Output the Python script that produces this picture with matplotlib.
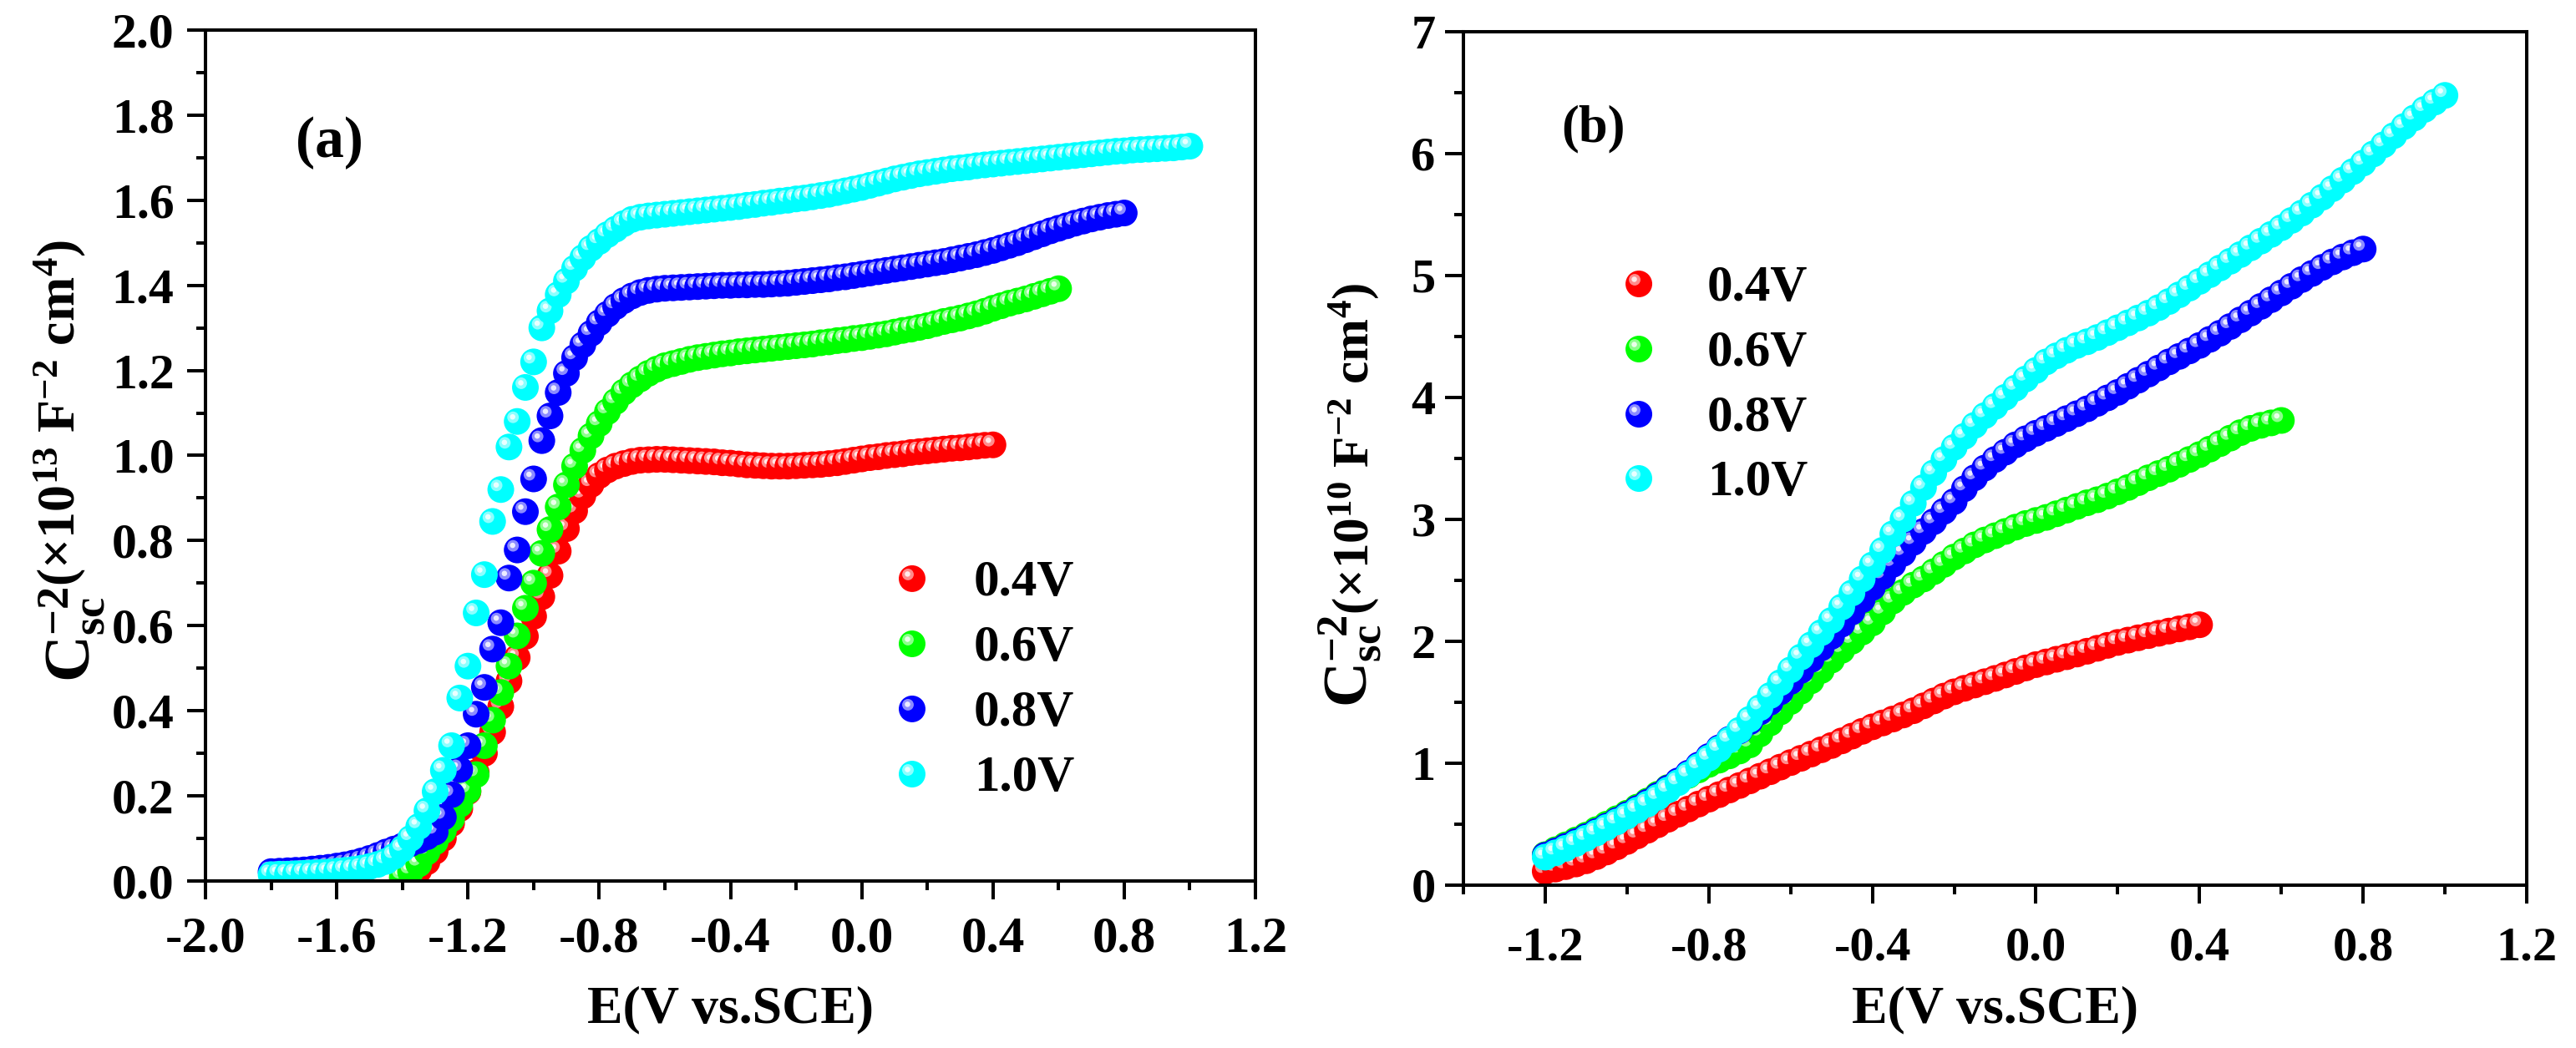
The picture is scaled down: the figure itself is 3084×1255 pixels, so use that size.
import numpy as np
import matplotlib
matplotlib.use('Agg')
import matplotlib.pyplot as plt
import matplotlib.colors as mcolors
from matplotlib.ticker import MultipleLocator, FormatStrFormatter

plt.rcParams['font.family'] = ['Liberation Serif', 'DejaVu Serif']
plt.rcParams['font.weight'] = 'bold'
plt.rcParams['mathtext.fontset'] = 'custom'
plt.rcParams['mathtext.rm'] = 'Liberation Serif:bold'
plt.rcParams['mathtext.it'] = 'Liberation Serif:bold:italic'
plt.rcParams['mathtext.bf'] = 'Liberation Serif:bold'
plt.rcParams['axes.unicode_minus'] = False

# potential sweep: first point of each run, step 0.025 V
step = 0.025
labels = ['0.4V', '0.6V', '0.8V', '1.0V']
colors = ['#FF0000', '#00FF00', '#0000FF', '#00FFFF']

# ---- panel (a), x10^13 F^-2 cm^4 ----
start_a = [-1.4, -1.4, -1.8, -1.8]
red_a = [0.005, 0.012, 0.025, 0.045, 0.070, 0.100, 0.135, 0.170, 0.210, 0.255,
         0.300, 0.350, 0.410, 0.470, 0.525, 0.575, 0.622, 0.668, 0.718, 0.775,
         0.828, 0.870, 0.905, 0.932, 0.953, 0.966, 0.975, 0.981, 0.986, 0.989,
         0.990, 0.991, 0.991, 0.990, 0.989, 0.988, 0.987, 0.986, 0.985, 0.983,
         0.982, 0.980, 0.978, 0.977, 0.976, 0.975, 0.975, 0.975, 0.976, 0.977,
         0.978, 0.979, 0.981, 0.983, 0.986, 0.989, 0.992, 0.995, 0.997, 1.000,
         1.002, 1.004, 1.007, 1.009, 1.011, 1.013, 1.015, 1.017, 1.018, 1.020,
         1.022, 1.024, 1.025]
green_a = [0.010, 0.022, 0.040, 0.068, 0.092, 0.118, 0.146, 0.180, 0.212, 0.250,
           0.318, 0.378, 0.443, 0.505, 0.576, 0.641, 0.700, 0.770, 0.826, 0.879,
           0.931, 0.975, 1.012, 1.046, 1.075, 1.103, 1.127, 1.149, 1.166, 1.180,
           1.193, 1.203, 1.211, 1.216, 1.221, 1.226, 1.230, 1.233, 1.236, 1.239,
           1.241, 1.244, 1.246, 1.248, 1.250, 1.252, 1.254, 1.256, 1.258, 1.260,
           1.262, 1.265, 1.267, 1.270, 1.272, 1.275, 1.277, 1.280, 1.283, 1.286,
           1.290, 1.294, 1.297, 1.301, 1.305, 1.310, 1.315, 1.319, 1.323, 1.328,
           1.333, 1.339, 1.346, 1.352, 1.358, 1.363, 1.368, 1.374, 1.380, 1.386,
           1.392]
blue_a = [0.022, 0.023, 0.024, 0.025, 0.026, 0.028, 0.030, 0.032, 0.035, 0.038,
          0.042, 0.047, 0.053, 0.060, 0.068, 0.075, 0.082, 0.088, 0.095, 0.104,
          0.115, 0.150, 0.203, 0.262, 0.318, 0.392, 0.455, 0.545, 0.607, 0.712,
          0.778, 0.868, 0.945, 1.035, 1.093, 1.148, 1.193, 1.230, 1.260, 1.287,
          1.312, 1.332, 1.350, 1.364, 1.375, 1.383, 1.388, 1.391, 1.393, 1.394,
          1.395, 1.396, 1.397, 1.398, 1.399, 1.400, 1.400, 1.401, 1.401, 1.402,
          1.402, 1.403, 1.404, 1.405, 1.407, 1.409, 1.411, 1.413, 1.415, 1.418,
          1.420, 1.423, 1.426, 1.429, 1.432, 1.435, 1.438, 1.441, 1.444, 1.447,
          1.450, 1.453, 1.456, 1.460, 1.464, 1.468, 1.472, 1.477, 1.482, 1.488,
          1.494, 1.500, 1.507, 1.514, 1.521, 1.528, 1.534, 1.540, 1.546, 1.551,
          1.556, 1.560, 1.564, 1.567, 1.570]
cyan_a = [0.015, 0.016, 0.016, 0.017, 0.018, 0.019, 0.020, 0.021, 0.023, 0.025,
          0.027, 0.030, 0.034, 0.039, 0.046, 0.058, 0.075, 0.100, 0.128, 0.165,
          0.210, 0.260, 0.318, 0.430, 0.505, 0.630, 0.720, 0.845, 0.920, 1.020,
          1.080, 1.160, 1.220, 1.300, 1.340, 1.378, 1.410, 1.440, 1.465, 1.487,
          1.503, 1.519, 1.532, 1.545, 1.555, 1.560, 1.563, 1.565, 1.567, 1.569,
          1.571, 1.573, 1.575, 1.577, 1.579, 1.581, 1.583, 1.585, 1.588, 1.590,
          1.593, 1.595, 1.598, 1.600, 1.603, 1.605, 1.608, 1.611, 1.614, 1.618,
          1.622, 1.626, 1.630, 1.635, 1.640, 1.645, 1.650, 1.654, 1.658, 1.662,
          1.665, 1.668, 1.671, 1.674, 1.676, 1.678, 1.681, 1.683, 1.685, 1.687,
          1.689, 1.691, 1.693, 1.695, 1.697, 1.699, 1.701, 1.703, 1.705, 1.707,
          1.709, 1.711, 1.713, 1.715, 1.716, 1.718, 1.719, 1.720, 1.721, 1.722,
          1.723, 1.725, 1.727]

# ---- panel (b), x10^10 F^-2 cm^4 ----
start_b = [-1.2, -1.2, -1.2, -1.2]
red_b = [0.114, 0.132, 0.152, 0.174, 0.200, 0.234, 0.272, 0.314, 0.358, 0.404,
         0.450, 0.495, 0.540, 0.582, 0.624, 0.665, 0.705, 0.742, 0.780, 0.817,
         0.855, 0.893, 0.930, 0.968, 1.005, 1.040, 1.075, 1.110, 1.145, 1.183,
         1.222, 1.261, 1.298, 1.330, 1.362, 1.395, 1.430, 1.470, 1.510, 1.550,
         1.585, 1.614, 1.641, 1.668, 1.695, 1.723, 1.752, 1.781, 1.808, 1.830,
         1.852, 1.873, 1.895, 1.918, 1.942, 1.966, 1.990, 2.009, 2.028, 2.046,
         2.065, 2.083, 2.101, 2.118, 2.135]
green_b = [0.250, 0.290, 0.330, 0.370, 0.410, 0.455, 0.500, 0.545, 0.590, 0.640,
           0.690, 0.745, 0.800, 0.850, 0.900, 0.945, 0.990, 1.025, 1.060, 1.100,
           1.150, 1.240, 1.330, 1.420, 1.505, 1.590, 1.675, 1.760, 1.845, 1.925,
           2.000, 2.075, 2.150, 2.240, 2.330, 2.400, 2.460, 2.510, 2.570, 2.630,
           2.690, 2.740, 2.790, 2.830, 2.865, 2.900, 2.935, 2.965, 2.990, 3.015,
           3.045, 3.075, 3.105, 3.135, 3.160, 3.190, 3.225, 3.260, 3.300, 3.340,
           3.375, 3.410, 3.450, 3.490, 3.530, 3.575, 3.620, 3.665, 3.710, 3.745,
           3.770, 3.790, 3.810]
blue_b = [0.245, 0.280, 0.318, 0.357, 0.398, 0.440, 0.484, 0.530, 0.578, 0.628,
          0.680, 0.735, 0.795, 0.855, 0.918, 0.985, 1.055, 1.125, 1.195, 1.265,
          1.340, 1.420, 1.500, 1.585, 1.670, 1.760, 1.850, 1.945, 2.040, 2.140,
          2.240, 2.340, 2.440, 2.530, 2.630, 2.720, 2.810, 2.900, 2.980, 3.065,
          3.145, 3.250, 3.340, 3.420, 3.490, 3.550, 3.610, 3.660, 3.705, 3.745,
          3.785, 3.825, 3.865, 3.905, 3.950, 3.995, 4.040, 4.090, 4.140, 4.190,
          4.240, 4.290, 4.335, 4.380, 4.425, 4.475, 4.525, 4.580, 4.635, 4.690,
          4.745, 4.800, 4.855, 4.910, 4.965, 5.015, 5.065, 5.110, 5.150, 5.185,
          5.215]
cyan_b = [0.230, 0.265, 0.302, 0.342, 0.385, 0.428, 0.473, 0.519, 0.566, 0.615,
          0.665, 0.720, 0.780, 0.840, 0.905, 0.972, 1.042, 1.115, 1.190, 1.270,
          1.360, 1.455, 1.555, 1.660, 1.765, 1.870, 1.970, 2.070, 2.170, 2.280,
          2.395, 2.510, 2.625, 2.745, 2.880, 3.000, 3.130, 3.260, 3.380, 3.490,
          3.590, 3.680, 3.770, 3.850, 3.925, 4.000, 4.075, 4.150, 4.220, 4.290,
          4.340, 4.385, 4.425, 4.455, 4.490, 4.530, 4.570, 4.610, 4.650, 4.690,
          4.735, 4.785, 4.840, 4.895, 4.950, 5.005, 5.060, 5.115, 5.170, 5.225,
          5.280, 5.335, 5.390, 5.450, 5.510, 5.575, 5.640, 5.710, 5.780, 5.850,
          5.920, 5.995, 6.070, 6.145, 6.220, 6.290, 6.360, 6.420, 6.475]

series_a = [red_a, green_a, blue_a, cyan_a]
series_b = [red_b, green_b, blue_b, cyan_b]


def spheres(ax, x, y, color, trans=None, clip=True, z=3):
    # shaded ball: base disc plus a light ring and a white core offset up-left
    trans = trans if trans is not None else ax.transData
    base = np.asarray(mcolors.to_rgb(color))
    ring = base + (1 - base) * 0.55
    core = base + (1 - base) * 0.92
    xy = trans.transform(np.column_stack([x, y]))
    pts = np.repeat(xy, 3, axis=0)
    pts[1::3] += [-5, 5]
    pts[2::3] += [-5.5, 5.5]
    back = trans.inverted().transform(pts)
    n = len(xy)
    sizes = np.tile([530, 100, 22], n)
    cols = np.tile(np.array([base, ring, core]), (n, 1))
    ax.scatter(back[:, 0], back[:, 1], s=sizes, c=cols, linewidths=0,
               transform=trans, clip_on=clip, zorder=z)


fig = plt.figure(figsize=(30.84, 12.55), dpi=100)
ax1 = fig.add_axes([0.07977, 0.15936, 0.4076, 0.8120])
ax2 = fig.add_axes([0.5681, 0.15538, 0.41278, 0.8147])

ax1.set_xlim(-2.0, 1.2)
ax1.set_ylim(0, 2.0)
ax2.set_xlim(-1.4, 1.2)
ax2.set_ylim(0, 7)

for ax in (ax1, ax2):
    for sp in ax.spines.values():
        sp.set_linewidth(2.9)
        sp.set_zorder(10)
    ax.tick_params(which='both', direction='out', top=False, right=False, width=2.9)
    ax.tick_params(which='major', length=16)
    ax.tick_params(which='minor', length=8)
    ax.xaxis.set_major_locator(MultipleLocator(0.4))
    ax.xaxis.set_minor_locator(MultipleLocator(0.2))
    ax.xaxis.set_major_formatter(FormatStrFormatter('%.1f'))

ax1.yaxis.set_major_locator(MultipleLocator(0.2))
ax1.yaxis.set_minor_locator(MultipleLocator(0.1))
ax1.yaxis.set_major_formatter(FormatStrFormatter('%.1f'))
ax1.tick_params(axis='x', which='major', labelsize=44, pad=14)
ax1.tick_params(axis='y', which='major', labelsize=43, pad=11)

ax2.yaxis.set_major_locator(MultipleLocator(1))
ax2.yaxis.set_minor_locator(MultipleLocator(0.5))
ax2.yaxis.set_major_formatter(FormatStrFormatter('%d'))
ax2.tick_params(axis='x', which='major', labelsize=42, pad=20)
ax2.tick_params(axis='y', which='major', labelsize=42, pad=8)

for k in range(4):
    ya = series_a[k]
    xa = start_a[k] + step * np.arange(len(ya))
    spheres(ax1, xa, ya, colors[k], z=3 + k)
    yb = series_b[k]
    xb = start_b[k] + step * np.arange(len(yb))
    spheres(ax2, xb, yb, colors[k], z=3 + k)

# legends
leg_a_y = [0.3553, 0.2787, 0.2022, 0.1256]
leg_b_y = [0.7042, 0.6279, 0.5516, 0.4763]
for k in range(4):
    spheres(ax1, [0.673], [leg_a_y[k]], colors[k], trans=ax1.transAxes, clip=False, z=12)
    ax1.text(0.7319, leg_a_y[k] - 0.0201, labels[k], transform=ax1.transAxes,
             fontsize=44, fontweight='bold', va='baseline', ha='left')
    spheres(ax2, [0.165], [leg_b_y[k]], colors[k], trans=ax2.transAxes, clip=False, z=12)
    ax2.text(0.2294, leg_b_y[k] - 0.0200, labels[k], transform=ax2.transAxes,
             fontsize=44, fontweight='bold', va='baseline', ha='left')

ax1.text(0.1177, 0.8675, '(a)', transform=ax1.transAxes, fontsize=50,
         fontweight='bold', ha='center', va='center')
ax2.text(0.1225, 0.886, '(b)', transform=ax2.transAxes, fontsize=45,
         fontweight='bold', ha='center', va='center')

ax1.set_xlabel('E(V vs.SCE)', fontsize=46, fontweight='bold')
ax2.set_xlabel('E(V vs.SCE)', fontsize=46, fontweight='bold')
ax1.xaxis.set_label_coords(0.5, -0.1227)
ax2.xaxis.set_label_coords(0.5, -0.1174)

# y labels: a larger C with sub/superscript, then the unit part
csc = r'C$_{\mathrm{sc}}^{\mathrm{-2}}$'
unit_a = r'(×10$^{\mathrm{13}}$ F$^{\mathrm{-2}}$ cm$^{\mathrm{4}}$)'
unit_b = r'(×10$^{\mathrm{10}}$ F$^{\mathrm{-2}}$ cm$^{\mathrm{4}}$)'
ax1.text(-0.1098, 0.3464, csc, transform=ax1.transAxes, fontsize=56,
         rotation=90, rotation_mode='anchor', ha='right', va='baseline')
ax1.text(-0.1249, 0.3464, unit_a, transform=ax1.transAxes, fontsize=46,
         rotation=90, rotation_mode='anchor', ha='left', va='baseline')
ax2.text(-0.0896, 0.3169, csc, transform=ax2.transAxes, fontsize=54,
         rotation=90, rotation_mode='anchor', ha='right', va='baseline')
ax2.text(-0.0896, 0.3169, unit_b, transform=ax2.transAxes, fontsize=44,
         rotation=90, rotation_mode='anchor', ha='left', va='baseline')

fig.savefig('out.png', dpi=100, facecolor='white')
